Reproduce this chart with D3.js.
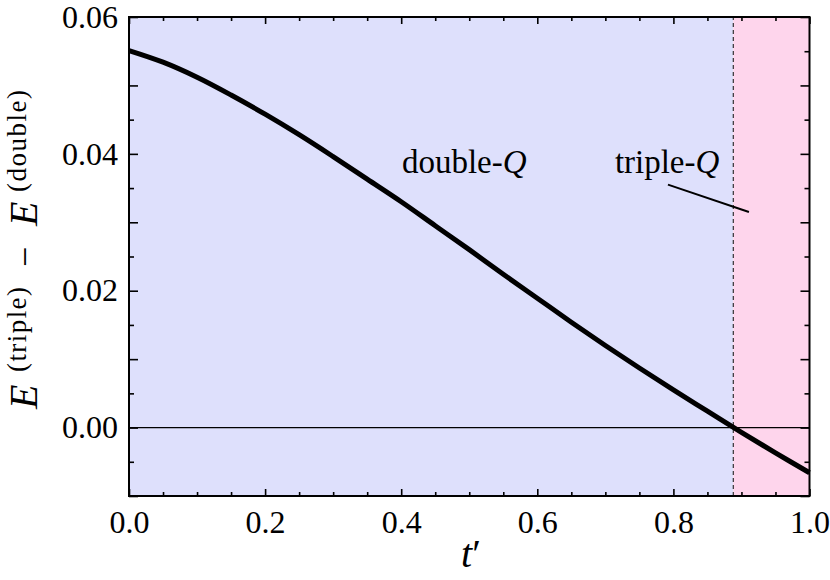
<!DOCTYPE html>
<html><head><meta charset="utf-8">
<script src="https://cdn.jsdelivr.net/npm/d3@7"></script>
<style>
body{margin:0;background:#fff}
svg{display:block}
text{font-family:"Liberation Serif","Times New Roman",serif;fill:#000}
</style>
</head><body><svg id="c" width="830" height="580"></svg>
<script>
// ---- data ----
const tValues      = [0.00, 0.05, 0.10, 0.15, 0.20, 0.25, 0.30, 0.35, 0.40, 0.45, 0.50,
                      0.55, 0.60, 0.65, 0.70, 0.75, 0.80, 0.85, 0.90, 0.95, 1.00];
const energyDiff   = [0.0551, 0.0534, 0.0512, 0.0486, 0.0458, 0.0428, 0.0396, 0.0363, 0.0330, 0.0295, 0.0260,
                      0.0224, 0.0189, 0.0154, 0.0120, 0.0087, 0.0055, 0.0024, -0.0007, -0.0037, -0.0066];
const xTickValues  = [0.0, 0.2, 0.4, 0.6, 0.8, 1.0];
const xTickLabels  = ["0.0", "0.2", "0.4", "0.6", "0.8", "1.0"];
const yTickValues  = [0.00, 0.02, 0.04, 0.06];
const yTickLabels  = ["0.00", "0.02", "0.04", "0.06"];
const xDomain = [0, 1];
const yDomain = [-0.01, 0.06];
const transitionT = 0.888;
const regionLabels = ["double-", "triple-"];
const regionLabelPos = [[0.401, 0.0372], [0.714, 0.0372]];
const leader = [[0.792, 0.0355], [0.911, 0.0315]];

// ---- layout ----
const W = 830, H = 580;
const m = {left:129, top:17, right:20.5, bottom:84};
const svg = d3.select("#c");
const x = d3.scaleLinear().domain(xDomain).range([m.left, W - m.right]);
const y = d3.scaleLinear().domain(yDomain).range([H - m.bottom, m.top]);
const x0 = x.range()[0], x1 = x.range()[1], y0 = y.range()[0], y1 = y.range()[1];

// background regions
svg.append("rect").attr("x", x(xDomain[0])).attr("y", y1)
  .attr("width", x(transitionT) - x(xDomain[0])).attr("height", y0 - y1).attr("fill", "#dee0fc");
svg.append("rect").attr("x", x(transitionT)).attr("y", y1)
  .attr("width", x(xDomain[1]) - x(transitionT)).attr("height", y0 - y1).attr("fill", "#fed5ec");

// zero line
svg.append("line").attr("x1", x0).attr("x2", x1).attr("y1", y(0)).attr("y2", y(0))
  .attr("stroke", "#000").attr("stroke-width", 1.3);
// dashed transition line
svg.append("line").attr("x1", x(transitionT)).attr("x2", x(transitionT)).attr("y1", y0).attr("y2", y1)
  .attr("stroke", "#222").attr("stroke-width", 1.1).attr("stroke-dasharray", "4,3");

// curve
const pts = tValues.map((t, i) => [t, energyDiff[i]]);
svg.append("path").datum(pts)
  .attr("d", d3.line().x(d => x(d[0])).y(d => y(d[1])).curve(d3.curveCatmullRom.alpha(0.5)))
  .attr("fill", "none").attr("stroke", "#000").attr("stroke-width", 5);

// ticks
const range = (a, b, s) => d3.range(Math.round(a / s), Math.round(b / s) + 1).map(k => +(k * s).toFixed(6));
const xMinor = range(0, 1, 0.05).filter(v => !xTickValues.some(t => Math.abs(t - v) < 1e-9));
const yMajorAll = range(-0.01, 0.06, 0.01);
const yMinor = range(-0.01, 0.06, 0.005).filter(v => !yMajorAll.some(t => Math.abs(t - v) < 1e-9));

function styleAxis(g) {
  g.attr("font-family", null);
  g.select(".domain").remove();
  g.selectAll(".tick line").attr("stroke", "#000").attr("stroke-width", 1.6);
  g.selectAll(".tick text").attr("font-size", 32).attr("fill", "#000")
    .style("font-family", '"Liberation Serif","Times New Roman",serif');
}
// bottom
svg.append("g").attr("transform", `translate(0,${y0})`)
  .call(d3.axisBottom(x).tickValues(xTickValues).tickSize(-7).tickPadding(14)
    .tickFormat((d, i) => xTickLabels[i])).call(styleAxis);
svg.append("g").attr("transform", `translate(0,${y0})`)
  .call(d3.axisBottom(x).tickValues(xMinor).tickSize(-4).tickFormat("")).call(styleAxis);
// top
svg.append("g").attr("transform", `translate(0,${y1})`)
  .call(d3.axisTop(x).tickValues(xTickValues).tickSize(-7).tickFormat("")).call(styleAxis);
svg.append("g").attr("transform", `translate(0,${y1})`)
  .call(d3.axisTop(x).tickValues(xMinor).tickSize(-4).tickFormat("")).call(styleAxis);
// left
svg.append("g").attr("transform", `translate(${x0},0)`)
  .call(d3.axisLeft(y).tickValues(yMajorAll).tickSize(-9).tickPadding(11)
    .tickFormat(d => { const i = yTickValues.findIndex(v => Math.abs(v - d) < 1e-9); return i >= 0 ? yTickLabels[i] : ""; }))
  .call(styleAxis);
svg.append("g").attr("transform", `translate(${x0},0)`)
  .call(d3.axisLeft(y).tickValues(yMinor).tickSize(-5).tickFormat("")).call(styleAxis);
// right
svg.append("g").attr("transform", `translate(${x1},0)`)
  .call(d3.axisRight(y).tickValues(yMajorAll).tickSize(-9).tickFormat("")).call(styleAxis);
svg.append("g").attr("transform", `translate(${x1},0)`)
  .call(d3.axisRight(y).tickValues(yMinor).tickSize(-5).tickFormat("")).call(styleAxis);

// frame
svg.append("rect").attr("x", x0).attr("y", y1).attr("width", x1 - x0).attr("height", y0 - y1)
  .attr("fill", "none").attr("stroke", "#000").attr("stroke-width", 2);

// region labels
regionLabels.forEach((lab, i) => {
  const t = svg.append("text").attr("x", x(regionLabelPos[i][0])).attr("y", y(regionLabelPos[i][1]))
    .attr("font-size", 33);
  t.append("tspan").text(lab);
  t.append("tspan").attr("font-style", "italic").text("Q");
});
svg.append("line").attr("x1", x(leader[0][0])).attr("y1", y(leader[0][1]))
  .attr("x2", x(leader[1][0])).attr("y2", y(leader[1][1]))
  .attr("stroke", "#000").attr("stroke-width", 2);

// axis labels
const xl = svg.append("text").attr("x", 471).attr("y", 567)
  .attr("text-anchor", "middle").attr("font-size", 40);
xl.append("tspan").attr("font-style", "italic").text("t");
xl.append("tspan").text("′");

// y label: pieces laid along the rotated baseline (from = lower screen y where the piece starts)
const yLabelPieces = [
  {txt: "E",        it: true,  fs: 40, base: 37,   from: 409, len: null},
  {txt: "(triple)", it: false, fs: 27, base: 25.5, from: 372, len: 85},
  {txt: "−",        it: false, fs: 36, base: 37,   from: 267, len: null},
  {txt: "E",        it: true,  fs: 40, base: 37,   from: 226, len: null},
  {txt: "(double)", it: false, fs: 27, base: 25.5, from: 192, len: 102}
];
const yl = svg.append("g");
yLabelPieces.forEach(p => {
  const t = yl.append("text").attr("transform", `translate(${p.base},0) rotate(-90)`)
    .attr("x", -p.from).attr("y", 0)
    .attr("font-size", p.fs).attr("font-style", p.it ? "italic" : "normal")
    .text(p.txt);
  if (p.len) t.attr("textLength", p.len).attr("lengthAdjust", "spacing");
});
</script>
</body></html>
